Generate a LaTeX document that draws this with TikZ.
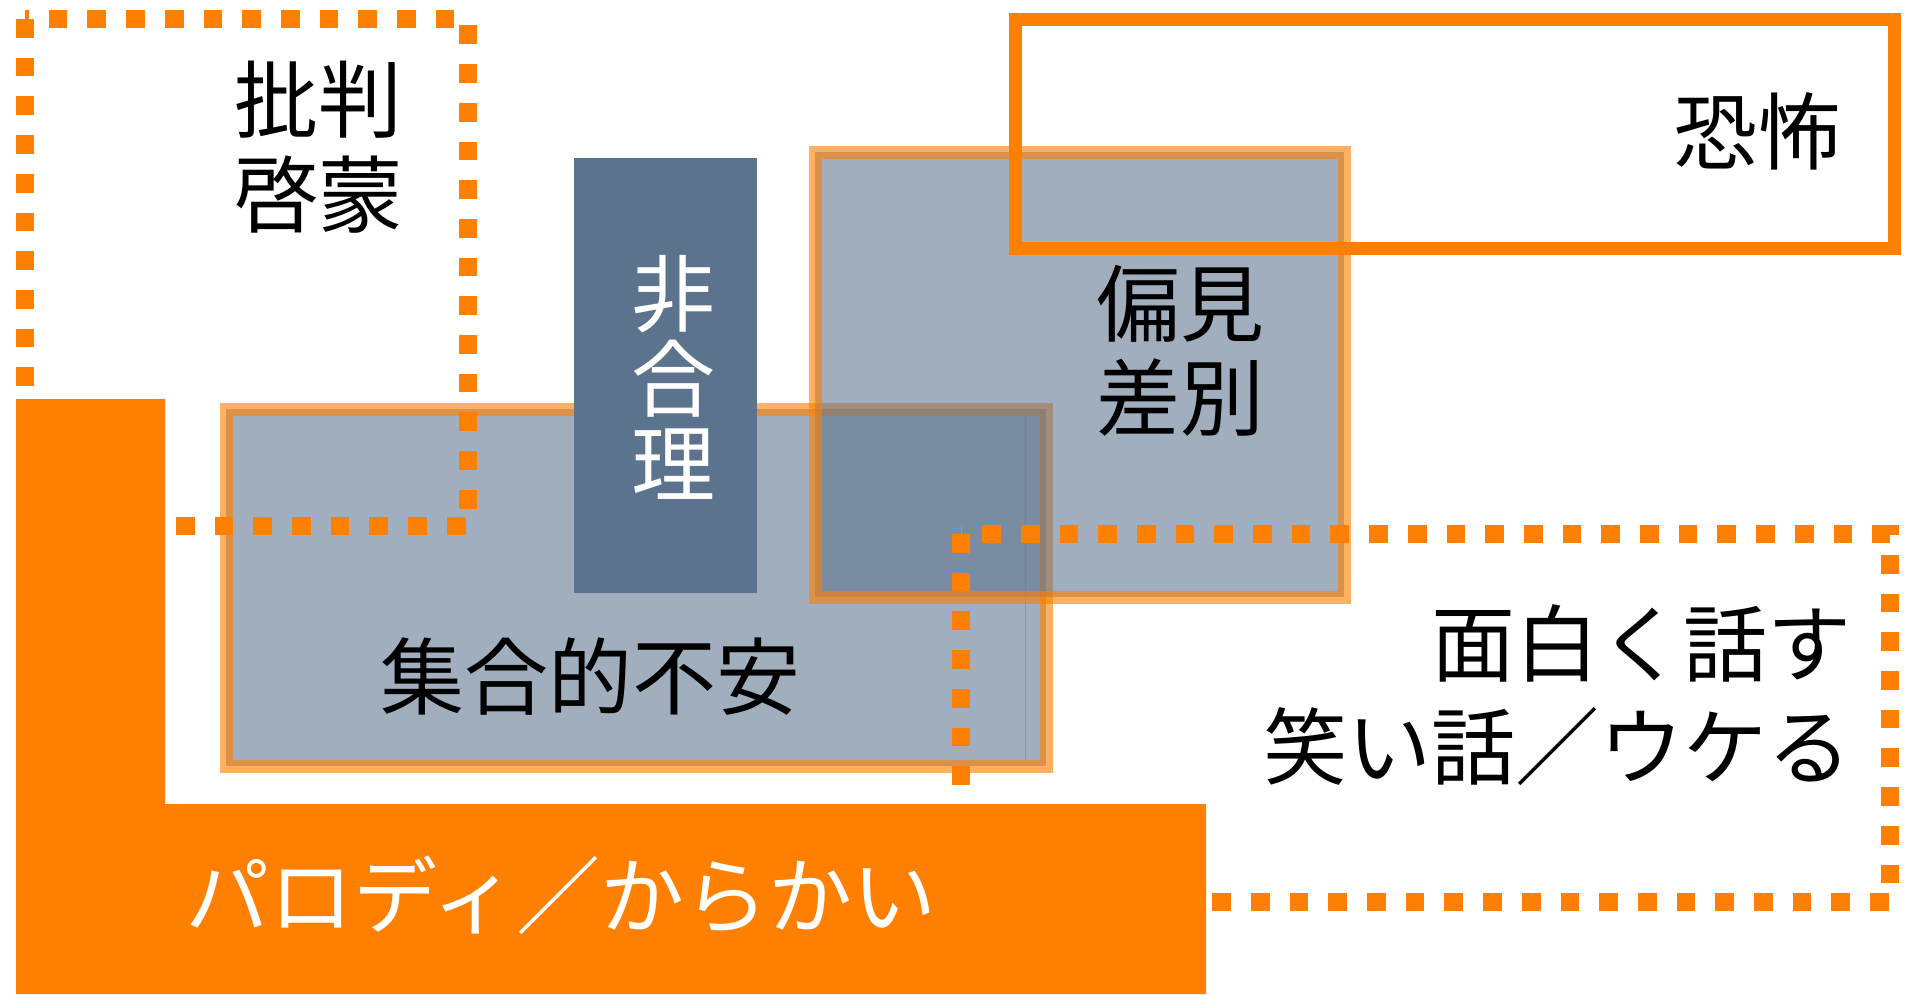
\documentclass[tikz,border=0pt]{standalone}
\usepackage{fontspec}
\newfontfamily\jp{Noto Sans CJK JP}
\definecolor{orng}{RGB}{255,128,0}
\definecolor{slate}{RGB}{92,115,142}
\tikzset{
  graybox/.style={fill=slate, fill opacity=0.58, draw=orng, draw opacity=0.62, line width=13pt},
  darkbox/.style={fill=slate, draw=none},
  dotrect/.style={draw=orng, line width=18.6pt, dash pattern=on 18.7pt off 20pt},
  solidrect/.style={draw=orng, line width=13pt},
  lbl/.style={font=\jp\fontsize{84}{95}\selectfont, inner sep=0pt, text=black, align=center},
}
\begin{document}
\begin{tikzpicture}[x=1pt,y=-1pt]
\useasboundingbox (0,0) rectangle (1907,994);
% gray boxes
\draw[graybox] (226,409) rectangle (1046,766);
\draw[slate, opacity=0.35, line width=1pt] (1025,416) -- (1025,760);
\draw[graybox] (815,152) rectangle (1344,597);
\fill[darkbox] (574,158) rectangle (757,593);
% dotted rectangles
\draw[dotrect] (25,19) rectangle (468,526);
\draw[dotrect] (961,534) rectangle (1890,902);
% orange L
\fill[orng] (16,399) -- (165,399) -- (165,804) -- (1206,804) -- (1206,994) -- (16,994) -- cycle;
% fear box
\draw[solidrect] (1015,19.5) rectangle (1894,248);
% labels
\node[lbl] (hihan) at (318,147) {批判\\啓蒙};
\node[lbl, text=white, font=\jp\fontsize{84}{85}\selectfont] (higouri) at (673,377) {非\\合\\理};
\node[lbl] (fuan) at (590,676) {集合的不安};
\node[lbl, font=\jp\fontsize{84}{94}\selectfont] (henken) at (1180,351) {偏見\\差別};
\node[lbl] (kyofu) at (1757,131) {恐怖};
\node[lbl, align=right, anchor=east, font=\jp\fontsize{84}{103}\selectfont] (omoshiro) at (1852,695) {面白く話す\\笑い話／ウケる};
\node[lbl, text=white] (parody) at (561,895) {パロディ／からかい};
\end{tikzpicture}
\end{document}
